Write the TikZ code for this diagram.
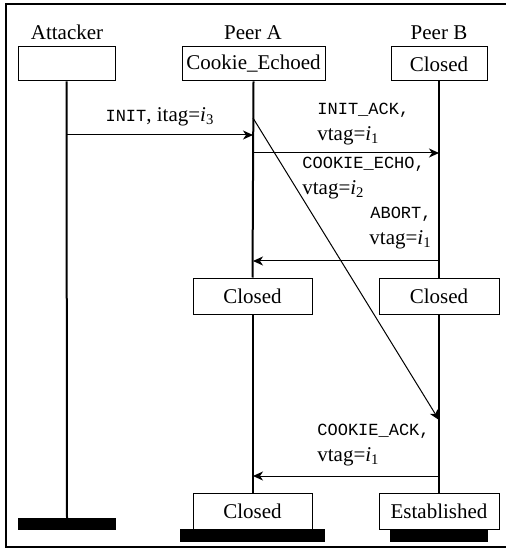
\documentclass[tikz,border=0pt]{standalone}
\usepackage{fontspec}
\setmainfont{Liberation Serif}
\setmonofont{Liberation Mono}
\usetikzlibrary{arrows.meta}
\newcommand{\msg}[1]{{\fontsize{8.5}{13}\selectfont\ttfamily #1}}
\newcommand{\ivar}[1]{\textit{i}\textsubscript{#1}}
\tikzset{
  every node/.style={font=\fontsize{10.5}{13}\selectfont},
  statebox/.style={draw, line width=0.5pt, inner sep=0pt, minimum height=17pt},
  title/.style={inner sep=0pt, anchor=base},
  lifeline/.style={line width=1pt},
  msgarrow/.style={line width=0.5pt, -{Stealth[length=5pt,width=4.5pt,inset=1.5pt]}},
  lbl/.style={inner sep=0pt},
  endbar/.style={fill=black, draw=none},
}
\begin{document}
\begin{tikzpicture}[x=0.5pt, y=-0.5pt]
\useasboundingbox (0,0) rectangle (505,550);
\draw[line width=0.6pt] (6,4) rectangle (507,547);

% titles
\node[title] (tAtt) at (67,40) {Attacker};
\node[title] (tA) at (253,40) {Peer A};
\node[title] (tB) at (439,40) {Peer B};

% state boxes
\node[statebox, minimum width=48.5pt] (attBox) at (66.5,64) {};
\node[statebox, minimum width=71.5pt] (aBox) at (253.5,64) {Cookie\_Echoed};
\node[statebox, minimum width=48pt] (bBox) at (439,64) {Closed};
\node[statebox, minimum width=59.5pt, minimum height=18pt] (aClosed) at (252.5,296) {Closed};
\node[statebox, minimum width=60pt, minimum height=18pt] (bClosed) at (439,296) {Closed};
\node[statebox, minimum width=59.5pt, minimum height=18pt] (aFinal) at (252.5,511) {Closed};
\node[statebox, minimum width=60pt, minimum height=18pt] (bFinal) at (439,511) {Established};

% end bars
\fill[endbar] (18,518) rectangle (116,530);
\fill[endbar] (180,529) rectangle (325,542);
\fill[endbar] (390,529) rectangle (488,542);
\coordinate (attEnd) at (67,518);

% lifelines
\draw[lifeline] (attBox.south) -- (attEnd);
\draw[lifeline] (aBox.south) -- (aClosed.north);
\draw[lifeline] (aClosed.south) -- (aFinal.north);
\draw[lifeline] (bBox.south) -- (bClosed.north);
\draw[lifeline] (bClosed.south) -- (bFinal.north);

% message points
\coordinate (m1s) at (67,135);
\coordinate (m1e) at (253,135);
\coordinate (m2s) at (253,153);
\coordinate (m2e) at (439,153);
\coordinate (m3s) at (253,118);
\coordinate (m3e) at (439,420);
\coordinate (m4s) at (439,261);
\coordinate (m4e) at (253,261);
\coordinate (m5s) at (439,476);
\coordinate (m5e) at (253,476);

\draw[msgarrow] (m1s) -- (m1e);
\draw[msgarrow] (m2s) -- (m2e);
\draw[msgarrow] (m3s) -- (m3e);
\draw[msgarrow] (m4s) -- (m4e);
\draw[msgarrow] (m5s) -- (m5e);

% labels
\node[lbl, anchor=south] (l1) at (160,126) {\msg{INIT}, itag=\ivar{3}};
\node[lbl, anchor=south west, align=left] (l2) at (317,145) {\msg{INIT\_ACK,}\\vtag=\ivar{1}};
\node[lbl, anchor=south west, align=left] (l3) at (302,199) {\msg{COOKIE\_ECHO,}\\vtag=\ivar{2}};
\node[lbl, anchor=south east, align=right] (l4) at (432,249) {\msg{ABORT,}\\vtag=\ivar{1}};
\node[lbl, anchor=south west, align=left] (l5) at (317,466) {\msg{COOKIE\_ACK,}\\vtag=\ivar{1}};
\end{tikzpicture}
\end{document}
